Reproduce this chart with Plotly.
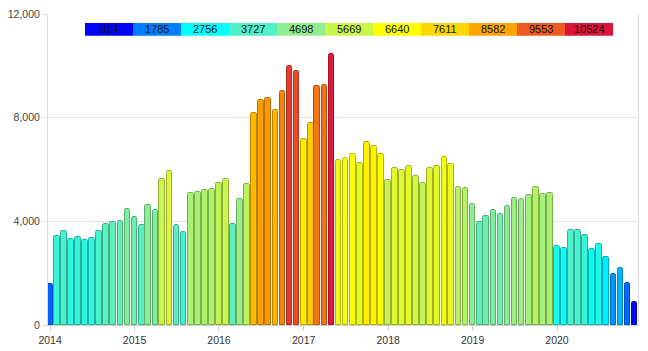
import plotly.graph_objects as go
import pandas as pd

# ---- data (monthly values, Jan..Dec) ----
values_2014 = [1570, 3422, 3615, 3306, 3383, 3267, 3344, 3615, 3885, 3962, 4026, 4463]
values_2015 = [4154, 3846, 4617, 4424, 5621, 5929, 3846, 3576, 5080, 5119, 5196, 5235]
values_2016 = [5466, 5621, 3885, 4849, 5428, 8168, 8669, 8746, 8283, 9016, 9981, 9788]
values_2017 = [7164, 7788, 9210, 9249, 10450, 6355, 6432, 6586, 6239, 7049, 6895, 6586]
values_2018 = [5583, 6046, 5969, 6123, 5738, 5467, 6046, 6123, 6470, 6200, 5313, 5275]
values_2019 = [4657, 3990, 4193, 4424, 4270, 4578, 4887, 4849, 5003, 5313, 5042, 5080]
values_2020 = [3061, 2984, 3653, 3653, 3460, 2920, 3113, 2611, 1955, 2187, 1608, 880]

years = [2014, 2015, 2016, 2017, 2018, 2019, 2020]
values = (values_2014 + values_2015 + values_2016 + values_2017 +
          values_2018 + values_2019 + values_2020)
months = pd.date_range(f"{years[0]}-01-01", periods=len(values), freq="MS")

legend_labels = [814, 1785, 2756, 3727, 4698, 5669, 6640, 7611, 8582, 9553, 10524]
scale_colors = ['#0000ff', '#0080ff', '#00ffff', '#50f0c8', '#90ee90', '#ccf54b',
                '#ffff00', '#ffd700', '#ffa500', '#f05a22', '#dc143c']

vmin, vmax = legend_labels[0], legend_labels[-1]


def hex2rgb(h):
    h = h.lstrip('#')
    return [int(h[i:i + 2], 16) for i in (0, 2, 4)]


def interp(v):
    t = (v - vmin) / (vmax - vmin)
    t = max(0.0, min(1.0, t))
    n = len(scale_colors) - 1
    i = min(int(t * n), n - 1)
    f = t * n - i
    a, b = hex2rgb(scale_colors[i]), hex2rgb(scale_colors[i + 1])
    return [a[k] + (b[k] - a[k]) * f for k in range(3)]


def css(rgb, k=1.0):
    return "rgb(%d,%d,%d)" % tuple(int(round(c * k)) for c in rgb)


fill = [css(interp(v)) for v in values]
border = [css(interp(v), 0.72) for v in values]

fig = go.Figure()
fig.add_trace(go.Bar(
    x=months, y=values,
    width=24.5 * 86400000,
    marker=dict(color=fill, line=dict(color=border, width=1), cornerradius=2),
    cliponaxis=False,
    showlegend=False,
))

# ---- piecewise legend at top ----
L, R, T, B = 48, 638, 14, 325
pw, ph = R - L, B - T
seg_x0, seg_w, seg_y0, seg_y1 = 85, 48, 23, 35.7
shapes = []
annotations = []
for i, (lab, col) in enumerate(zip(legend_labels, scale_colors)):
    x0 = (seg_x0 + i * seg_w - L) / pw
    x1 = (seg_x0 + (i + 1) * seg_w - L) / pw
    y0 = (B - seg_y1) / ph
    y1 = (B - seg_y0) / ph
    shapes.append(dict(type="rect", xref="paper", yref="paper", x0=x0, x1=x1,
                       y0=y0, y1=y1, fillcolor=col, line=dict(width=0), layer="above"))
    annotations.append(dict(x=(x0 + x1) / 2, y=(y0 + y1) / 2, xref="paper", yref="paper",
                            xanchor="center", yanchor="middle",
                            text=str(lab), showarrow=False,
                            font=dict(family="Liberation Sans", size=11, color="#111")))

fig.update_layout(
    width=648, height=351,
    margin=dict(l=L, r=648 - R, t=T, b=351 - B, pad=0, autoexpand=False),
    plot_bgcolor="white", paper_bgcolor="white",
    bargap=0,
    font=dict(family="Liberation Sans", size=10.5, color="#444"),
    shapes=shapes, annotations=annotations,
    xaxis=dict(type="date", range=["2013-12-23", "2020-12-16"], automargin=False,
               tick0="2014-01-01", dtick="M12", tickformat="%Y",
               showgrid=False, showline=True, linecolor="#cfcfcf", linewidth=1,
               ticks="outside", ticklen=5, tickcolor="#cfcfcf", mirror=False,
               tickfont=dict(color="#333")),
    yaxis=dict(range=[0, 12000], tickvals=[0, 4000, 8000, 12000], tickformat=",",
               automargin=False,
               showgrid=True, gridcolor="#e3e3e3", zeroline=False,
               showline=True, linecolor="#dcdcdc", linewidth=1, mirror=True,
               ticks="outside", ticklen=5, tickcolor="#dcdcdc"),
)

fig.write_html("out.html")
